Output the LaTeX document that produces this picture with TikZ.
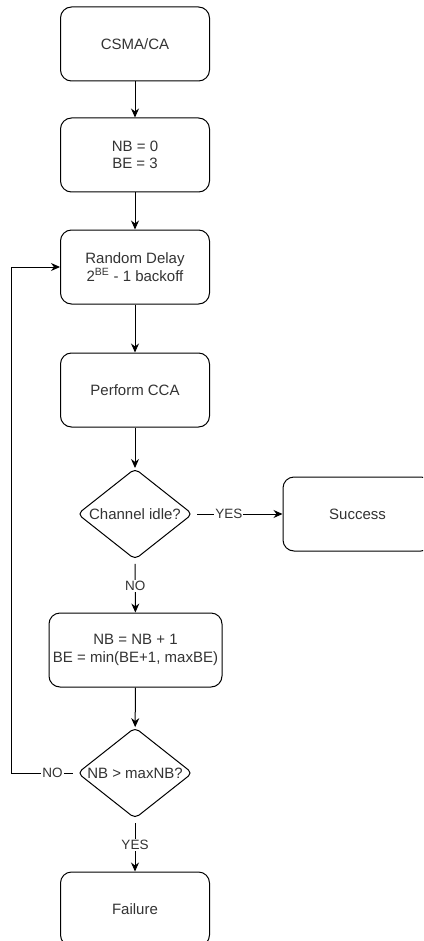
\documentclass[tikz,border=0pt]{standalone}
\usepackage{fontspec}
\setsansfont{Liberation Sans}
\usetikzlibrary{shapes.geometric,arrows.meta}

\begin{document}
\begin{tikzpicture}[x=1pt,y=-1pt,font=\sffamily\fontsize{15}{17.5}\selectfont,
  box/.style={draw,rounded corners=11pt,minimum width=149pt,minimum height=74pt,align=center,text=black!80,line width=1pt},
  test/.style={draw,diamond,aspect=1.26,rounded corners=5pt,minimum width=115pt,minimum height=91pt,inner sep=0pt,text=black!80,line width=1pt},
  flow/.style={-{Stealth[length=9pt,width=8pt]},line width=1pt},
  lbl/.style={fill=white,inner sep=1pt,text=black!80,font=\sffamily\fontsize{13.5}{16}\selectfont}]
\useasboundingbox (0,0) rectangle (423,941);
\clip (0,0) rectangle (423,941);
\fill[white] (0,0) rectangle (423,941);

\node[box] (csma) at (135,44) {CSMA/CA};
\node[box] (init) at (135,155) {NB = 0\\BE = 3};
\node[box] (delay) at (135,267) {Random Delay\\2\textsuperscript{BE} - 1 backoff};
\node[box] (cca) at (135,390) {Perform CCA};
\node[test] (idle) at (135,514) {Channel idle?};
\node[box] (success) at (357.5,514) {Success};
\node[box,minimum width=173pt] (update) at (135.5,650) {NB = NB + 1\\BE = min(BE+1, maxBE)};
\node[test] (limit) at (135,773) {NB > maxNB?};
\node[box] (failure) at (135,909) {Failure};
\coordinate (back) at (11,773);

\draw[flow] (csma) -- (init);
\draw[flow] (init) -- (delay);
\draw[flow] (delay) -- (cca);
\draw[flow] (cca) -- (idle);
\draw[flow,shorten <=4pt] (idle) -- node[lbl,pos=0.4] {YES} (success);
\draw[flow,shorten <=4pt] (idle) -- node[lbl] {NO} (update);
\draw[flow] (update) -- (limit);
\draw[flow,shorten <=4pt] (limit) -- node[lbl] {YES} (failure);
\draw[flow,shorten <=4pt] (limit) -- node[lbl,pos=0.37] {NO} (back) |- (delay);

\end{tikzpicture}
\end{document}
